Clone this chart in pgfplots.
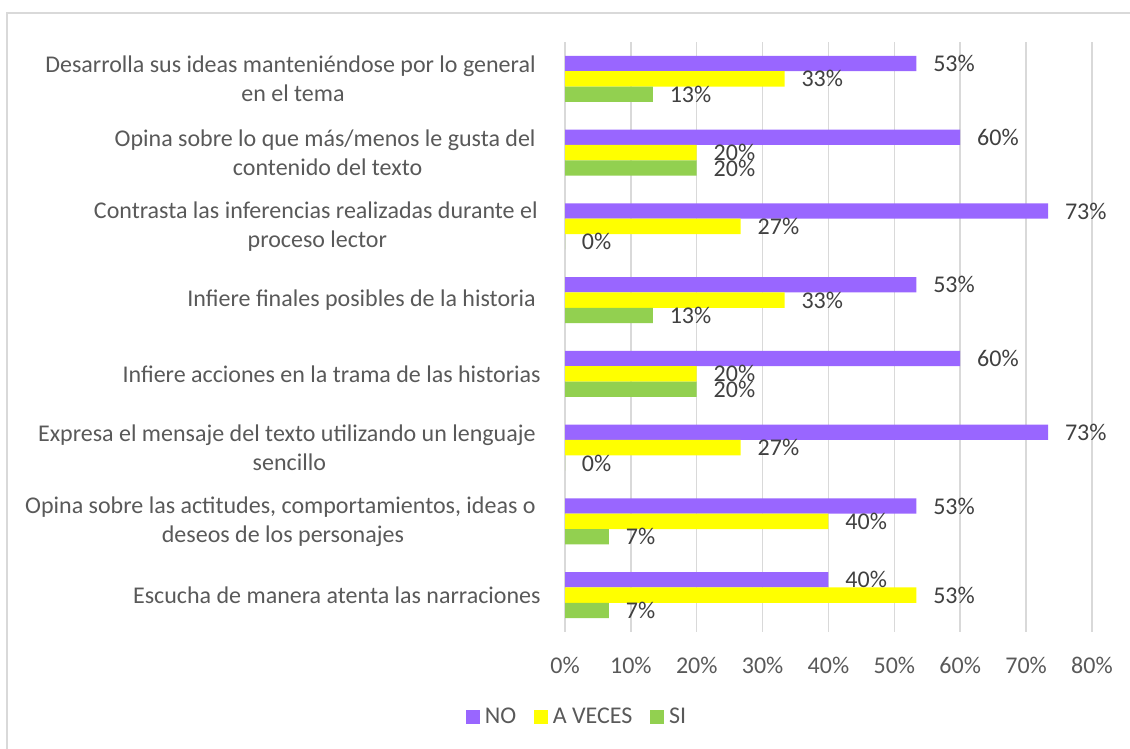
\documentclass[border=0pt]{standalone}
\usepackage{pgfplots}
\pgfplotsset{compat=1.18}
\usepackage{fontspec}
\setmainfont{Carlito}
\definecolor{cNO}{HTML}{9966FF}
\definecolor{cAV}{HTML}{FFFF00}
\definecolor{cSI}{HTML}{92D050}
\definecolor{cgrid}{HTML}{D9D9D9}
\definecolor{ctext}{HTML}{595959}
\definecolor{clab}{HTML}{404040}
\newcommand{\cf}{\fontsize{12}{14.6}\selectfont}
\begin{document}
\begin{tikzpicture}
\useasboundingbox (0,0) rectangle (565pt,374.5pt);
\draw[cgrid, line width=0.75pt] (3.5pt,-20pt) -- (3.5pt,368pt) -- (620pt,368pt);
\begin{axis}[
  at={(282.5pt,58.5pt)}, anchor=south west,
  scale only axis, width=263.5pt, height=295pt,
  xbar=0pt, bar width=7.65pt,
  xmin=0, xmax=80, ymin=-0.5, ymax=7.5,
  y dir=reverse,
  xtick={0,10,...,80},
  xticklabel={\pgfmathprintnumber{\tick}\%},
  /pgf/number format/assume math mode=true,
  ytick={0,...,7},
  yticklabels={
    {Desarrolla sus ideas manteniéndose por lo general\hspace*{2.5pt}\\en el tema},
    {Opina sobre lo que más/menos le gusta del\hspace*{2.5pt}\\contenido del texto},
    {Contrasta las inferencias realizadas durante el\hspace*{1.5pt}\\proceso lector},
    {Infiere finales posibles de la historia\hspace*{2.5pt}},
    {Infiere acciones en la trama de las historias},
    {Expresa el mensaje del texto utilizando un lenguaje\hspace*{2.5pt}\\sencillo},
    {Opina sobre las actitudes, comportamientos, ideas o\hspace*{2.5pt}\\deseos de los personajes},
    {Escucha de manera atenta las narraciones}
  },
  axis line style={draw=none},
  major tick length=0pt,
  xmajorgrids, grid style={cgrid, line width=0.75pt},
  tick label style={font=\cf, text=ctext, inner sep=0pt},
  xticklabel style={anchor=north, yshift=-12.5pt},
  yticklabel style={anchor=east, align=center, xshift=-12pt},
  nodes near coords={\pgfmathprintnumber[fixed,precision=0]{\pgfplotspointmeta}\%},
  point meta=x,
  nodes near coords style={anchor=west, inner sep=0pt, xshift=8.3pt, font=\cf, text=clab},
  legend style={draw=none, fill=none, at={(0.0256,-0.144)}, anchor=center,
    legend columns=-1, font=\cf, text=ctext,
    nodes={inner sep=2.4pt},
    /tikz/every even column/.append style={column sep=6.5pt},
    /tikz/every odd column/.append style={column sep=0pt}},
  legend cell align=left,
  legend image code/.code={\draw[#1, draw=none] (0pt,-3.5pt) rectangle (7pt,3.5pt);},
]
\addplot[fill=cNO, draw=none, bar shift=7.65pt] coordinates {(53.33,0) (60,1) (73.33,2) (53.33,3) (60,4) (73.33,5) (53.33,6) (40,7)};
\addplot[fill=cAV, draw=none, bar shift=0pt] coordinates {(33.33,0) (20,1) (26.67,2) (33.33,3) (20,4) (26.67,5) (40,6) (53.33,7)};
\addplot[fill=cSI, draw=none, bar shift=-7.65pt] coordinates {(13.33,0) (20,1) (0,2) (13.33,3) (20,4) (0,5) (6.67,6) (6.67,7)};
\legend{NO, A VECES, SI}
\end{axis}
\end{tikzpicture}
\end{document}
